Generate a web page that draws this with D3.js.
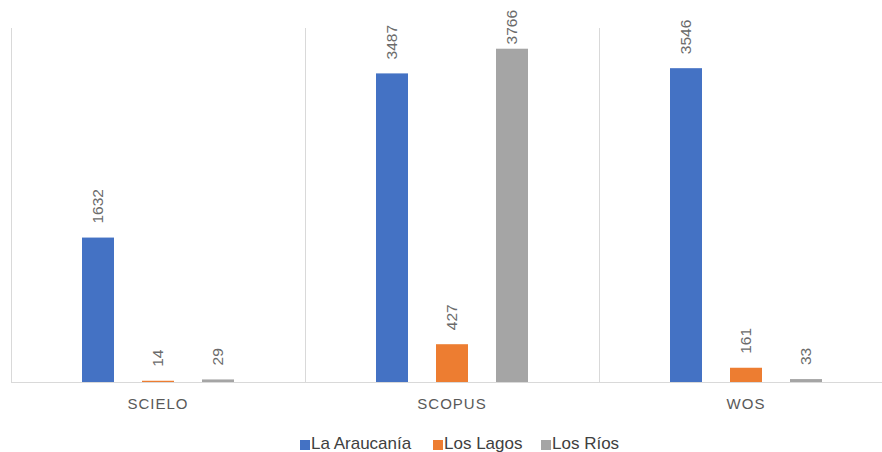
<!DOCTYPE html>
<html lang="es">
<head>
  <meta charset="UTF-8">
  <title>Publicaciones por región</title>
  <script src="https://d3js.org/d3.v7.min.js"></script>
  <style>
    html, body { margin: 0; padding: 0; background: #fff; }
    svg { display: block; font-family: "Liberation Sans", Arial, sans-serif; }
    .grid line { stroke: #d9d9d9; stroke-width: 1px; }
    .label { fill: #6b6b6b; font-size: 15.5px; }
    .cat { fill: #595959; font-size: 15px; letter-spacing: 1px; }
    .legend text { fill: #404040; font-size: 17px; }
  </style>
</head>
<body>

<svg width="882" height="452"></svg>

<script>
const categories = ["SCIELO", "SCOPUS", "WOS"];
const series = ["La Araucanía", "Los Lagos", "Los Ríos"];
const araucania = [1632, 3487, 3546];
const lagos = [14, 427, 161];
const rios = [29, 3766, 33];
const colors = ["#4472C4", "#ED7D31", "#A5A5A5"];

const values = [araucania, lagos, rios];
const data = categories.map((c, i) => ({
  cat: c,
  bars: series.map((s, j) => ({ s, v: values[j][i] }))
}));

const svg = d3.select("svg");
const plotLeft = 11, plotRight = 893, plotTop = 28, base = 382;

const x0 = d3.scaleBand().domain(categories).range([plotLeft, plotRight]);
const x1 = d3.scaleBand().domain(series).range([0, 180])
  .paddingInner(28 / 60).paddingOuter(14 / 60);
const y = d3.scaleLinear().domain([0, 4000]).range([base, plotTop]);
const color = d3.scaleOrdinal().domain(series).range(colors);

// vertical separators between categories
const grid = svg.append("g").attr("class", "grid");
grid.selectAll("line.v")
  .data(categories.concat(["end"]))
  .join("line")
  .attr("class", "v")
  .attr("x1", (d, i) => i < categories.length ? x0(d) + 0.5 : plotRight + 0.5)
  .attr("x2", (d, i) => i < categories.length ? x0(d) + 0.5 : plotRight + 0.5)
  .attr("y1", y(4000))
  .attr("y2", base);

const groups = svg.append("g").selectAll("g")
  .data(data)
  .join("g")
  .attr("transform", d => `translate(${x0(d.cat) + x0.bandwidth() / 2 - 90},0)`);

groups.selectAll("rect")
  .data(d => d.bars)
  .join("rect")
  .attr("x", d => x1(d.s))
  .attr("width", x1.bandwidth())
  .attr("y", d => y(d.v))
  .attr("height", d => base - y(d.v))
  .attr("fill", d => color(d.s));

// value labels, pushed down if they would leave the top of the picture
groups.selectAll("text")
  .data(d => d.bars)
  .join("text")
  .attr("class", "label")
  .text(d => d.v)
  .attr("transform", function(d) {
    const len = this.getComputedTextLength();
    const ty = Math.max(y(d.v) - 14, 10 + len);
    return `translate(${x1(d.s) + x1.bandwidth() / 2 + 5},${ty}) rotate(-90)`;
  });

// baseline
grid.append("line")
  .attr("x1", plotLeft).attr("x2", plotRight)
  .attr("y1", base + 0.5).attr("y2", base + 0.5);

// category axis labels
svg.append("g").selectAll("text")
  .data(categories)
  .join("text")
  .attr("class", "cat")
  .attr("x", d => x0(d) + x0.bandwidth() / 2)
  .attr("y", 409)
  .attr("text-anchor", "middle")
  .text(d => d);

// legend
const legendX = [300, 433, 541];
const legend = svg.append("g").attr("class", "legend")
  .selectAll("g")
  .data(series)
  .join("g")
  .attr("transform", (d, i) => `translate(${legendX[i]},0)`);

legend.append("rect")
  .attr("x", 0).attr("y", 440)
  .attr("width", 10).attr("height", 10)
  .attr("fill", d => color(d));

legend.append("text")
  .attr("x", 11).attr("y", 449)
  .text(d => d);
</script>

</body>
</html>
